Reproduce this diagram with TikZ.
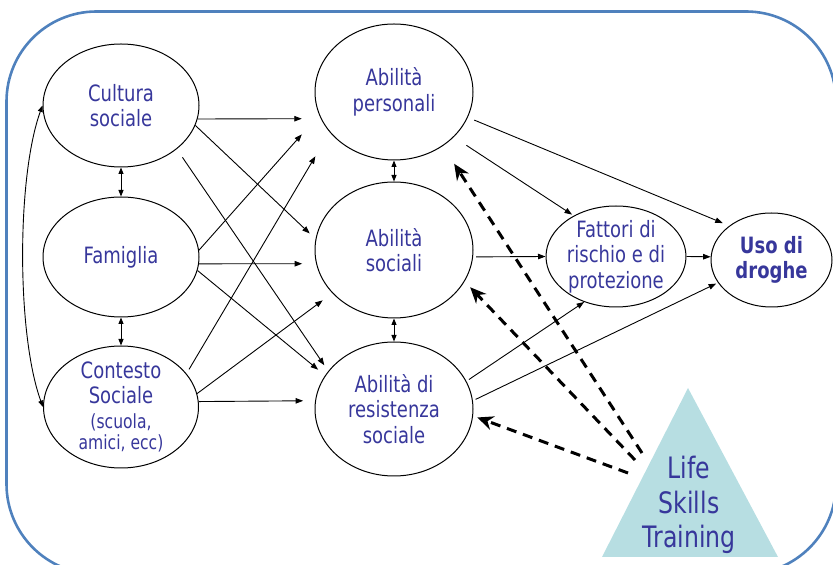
\documentclass[tikz,border=0pt]{standalone}
\usepackage{fontspec}
\setmainfont{DejaVu Sans}[FakeStretch=0.8]
\usepackage{tikz}
\usetikzlibrary{positioning}
\usetikzlibrary{arrows.meta}
\usetikzlibrary{shapes.geometric}
\definecolor{txtblue}{RGB}{55,55,155}
\definecolor{frameblue}{RGB}{79,129,189}
\definecolor{lstfill}{RGB}{183,222,226}
\newcommand{\smallparen}{\fontsize{19.5}{21}\selectfont}

\begin{document}
\begin{tikzpicture}[x=1pt,y=1pt,on grid,line width=0.9pt,
  >={Triangle[length=7.5pt,width=5.5pt]},
  skill/.style={ellipse,draw,line width=1pt,inner sep=-10pt,text=txtblue,align=center,
    font=\fontsize{22.5}{25.5}\selectfont},
  lstarrow/.style={-{Stealth[length=16pt,width=14pt]},line width=3pt,dash pattern=on 10pt off 7pt}]
  \useasboundingbox (0,0) rectangle (833,565);
  \begin{scope}
    \clip (0,0) rectangle (833,565);
    \draw[frameblue,line width=2.6pt,rounded corners=90pt] (6.5,-9) rectangle (836,553.5);
  \end{scope}
   \node[skill,minimum width=156pt,minimum height=120pt] (fam) at (121,308) {Famiglia};
   \node[skill,minimum width=156pt,minimum height=123pt] (cult) [above=151.5pt of fam] {Cultura\\sociale};
   \node[skill,minimum width=155pt,minimum height=122pt] (cont) [below=150pt of fam]
     {Contesto\\Sociale\\[-0.5pt]\smallparen (scuola,\\[-4.5pt]\smallparen amici, ecc)};
   \node[skill,minimum width=158pt,minimum height=136pt] (soc) at (394,315) {Abilità\\sociali};
   \node[skill,minimum width=158pt,minimum height=136pt] (pers) [above=158pt of soc] {Abilità\\personali};
   \node[skill,minimum width=158pt,minimum height=134pt] (res) [below=159pt of soc] {Abilità di\\resistenza\\sociale};
   \node[skill,minimum width=140pt,minimum height=101pt] (fatt) at (616,308.5) {Fattori di\\rischio e di\\protezione};
   \node[skill,minimum width=121pt,minimum height=94pt,font=\fontsize{22.5}{25}\selectfont\bfseries] (uso) at (771.5,305) {Uso di\\droghe};
   \coordinate (lsttop) at (688,177);
   \coordinate (lstleft) at (602,8);
   \coordinate (lstright) at (778,8);
   \fill[lstfill] (lsttop) -- (lstleft) -- (lstright) -- cycle;
   \node[text=txtblue,align=center,font=\fontsize{29.5}{34.5}\selectfont] (lsttext) at (689,60) {Life\\Skills\\Training};
   \coordinate (lst1) at (642,112);
   \coordinate (lst2) at (635,105);
   \coordinate (lst3) at (628,92);
    \path[->]
    (cult.-10) edge[shorten >=19pt] (pers.200)
    (cult.-15) edge[shorten >=8pt] (soc.172)
    (cult.-38) edge[shorten <=10pt,shorten >=7pt] (res.150)
    (fam.5) edge[shorten >=26pt] (pers.197)
    (fam.-5) edge[shorten >=14pt] (soc.190)
    (fam.-10) edge[shorten >=9pt] (res.154)
    (cont.27) edge[shorten <=5pt,shorten >=28pt] (pers.212)
    (cont.10) edge[shorten >=12pt] (soc.215)
    (cont.4) edge[shorten >=12pt] (res.174)
    (pers.-19) edge[shorten <=7pt,shorten >=7pt] (uso.141)
    (pers.-37) edge[shorten <=15pt,shorten >=2pt] (fatt.136)
    (soc.-5) edge[shorten <=3pt] (fatt.180)
    (fatt.east) edge (uso.177)
    (res.21) edge[shorten <=3pt] (fatt.235)
    (res.6) edge[shorten <=3pt,shorten >=2pt] (uso.203);
    \path[<->,>={Triangle[length=6.5pt,width=5pt]}]
    (cult) edge (fam)
    (fam) edge (cont)
    (pers) edge (soc)
    (soc) edge (res)
    (cult.west) edge[bend right=20,looseness=0.65] (cont.west);
    \path[lstarrow]
    (lst1) edge[shorten >=21pt] (pers.312)
    (lst2) edge[shorten >=8pt] (soc.-24)
    (lst3) edge[shorten >=4.5pt] (res.-5);
\end{tikzpicture}
\end{document}
